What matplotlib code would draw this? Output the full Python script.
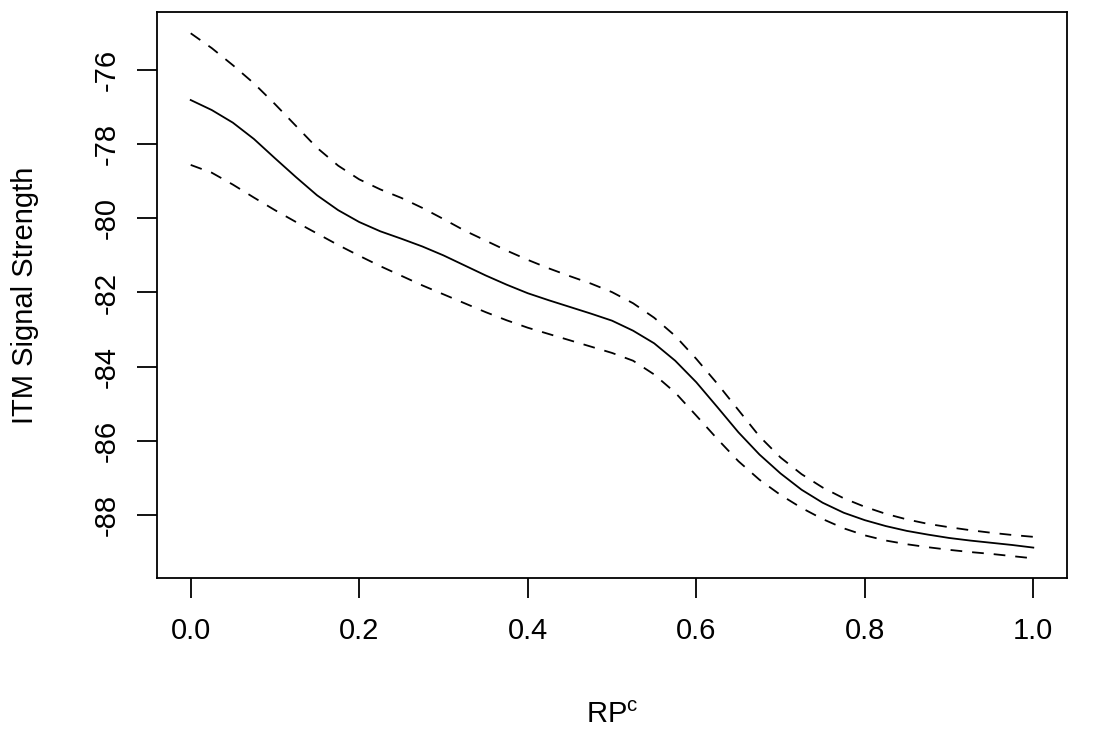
import numpy as np
import matplotlib
matplotlib.use("Agg")
import matplotlib.pyplot as plt

plt.rcParams['font.family'] = ['Liberation Sans', 'DejaVu Sans']
plt.rcParams['mathtext.fontset'] = 'custom'
plt.rcParams['mathtext.rm'] = 'Liberation Sans'

# values (step 0.025)
rp = [0.000, 0.025, 0.050, 0.075, 0.100, 0.125, 0.150, 0.175, 0.200, 0.225,
      0.250, 0.275, 0.300, 0.325, 0.350, 0.375, 0.400, 0.425, 0.450, 0.475,
      0.500, 0.525, 0.550, 0.575, 0.600, 0.625, 0.650, 0.675, 0.700, 0.725,
      0.750, 0.775, 0.800, 0.825, 0.850, 0.875, 0.900, 0.925, 0.950, 0.975, 1.000]
fit = [-76.81, -77.08, -77.42, -77.86, -78.38, -78.89, -79.38, -79.78, -80.10, -80.35,
       -80.55, -80.76, -81.00, -81.27, -81.54, -81.79, -82.02, -82.21, -82.39, -82.57,
       -82.76, -83.03, -83.37, -83.84, -84.42, -85.09, -85.77, -86.37, -86.88, -87.32,
       -87.67, -87.94, -88.14, -88.30, -88.43, -88.53, -88.62, -88.69, -88.75, -88.81, -88.88]
upper = [-75.01, -75.41, -75.87, -76.36, -76.92, -77.51, -78.10, -78.58, -78.95, -79.22,
         -79.45, -79.72, -80.02, -80.33, -80.60, -80.87, -81.12, -81.35, -81.56, -81.76,
         -81.99, -82.29, -82.68, -83.17, -83.79, -84.46, -85.17, -85.88, -86.45, -86.90,
         -87.26, -87.55, -87.78, -87.97, -88.12, -88.24, -88.33, -88.41, -88.48, -88.54, -88.59]
lower = [-78.56, -78.77, -79.09, -79.44, -79.78, -80.10, -80.41, -80.72, -81.01, -81.29,
         -81.55, -81.81, -82.05, -82.29, -82.53, -82.75, -82.95, -83.12, -83.29, -83.46,
         -83.63, -83.84, -84.21, -84.70, -85.32, -85.95, -86.55, -87.05, -87.46, -87.81,
         -88.11, -88.36, -88.55, -88.69, -88.79, -88.87, -88.94, -89.00, -89.05, -89.11, -89.17]

x_ticks = [0.0, 0.2, 0.4, 0.6, 0.8, 1.0]
y_ticks = [-76, -78, -80, -82, -84, -86, -88]

fig = plt.figure(figsize=(11.14, 7.54), dpi=100)
ax = fig.add_axes([157 / 1114, 1 - 578 / 754, 910 / 1114, 566 / 754])

ax.plot(rp, fit, color='black', lw=1.3)
for band in (upper, lower):
    ax.plot(rp, band, color='black', lw=1.3, dashes=(6.5, 5.5))

ax.set_xlim(-0.04, 1.04)
ax.set_ylim(-89.70, -74.436)
ax.set_xticks(x_ticks)
ax.set_xticklabels(['%.1f' % v for v in x_ticks])
ax.set_yticks(y_ticks)
ax.set_yticklabels([str(v) for v in y_ticks], rotation=90, va='center')
ax.tick_params(length=14.4, width=1.3, labelsize=21, pad=14)
ax.tick_params(axis='y', pad=12)
for s in ax.spines.values():
    s.set_linewidth(1.3)

fig.text(612 / 1114, 1 - 715 / 754, r'RP$^{\mathrm{c}}$', ha='center', va='center', fontsize=21)
fig.text(25 / 1114, 1 - 295 / 754, 'ITM Signal Strength', ha='center', va='center',
         rotation=90, fontsize=21)

fig.savefig('out.png', dpi=100)
